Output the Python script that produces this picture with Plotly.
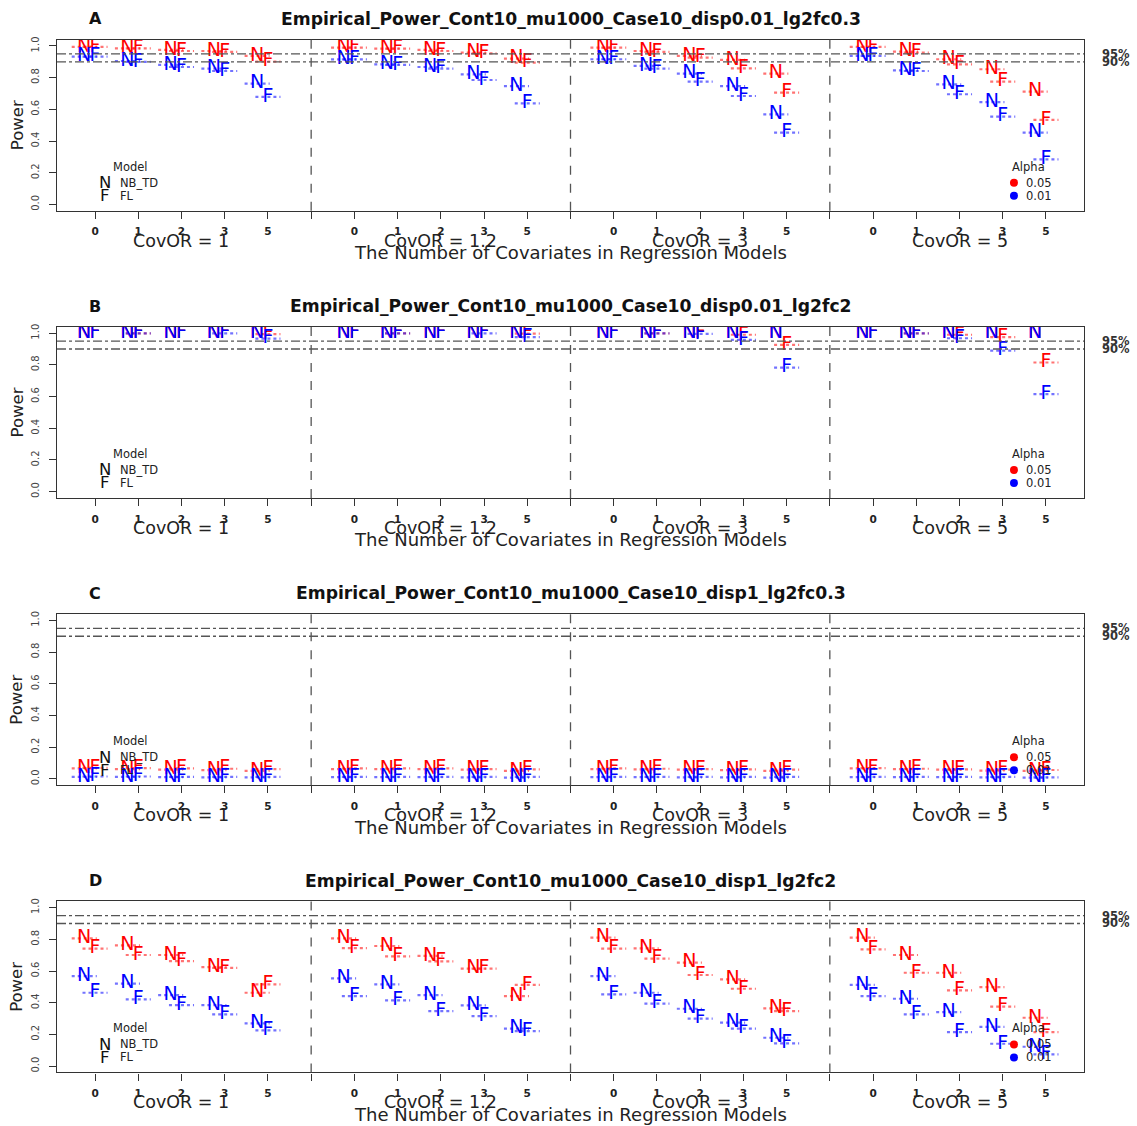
import plotly.graph_objects as go

W, H = 1137, 1126
FONT = "DejaVu Sans"

# ---------------------------------------------------------------- data
cov_labels = ["0", "1", "2", "3", "5"]
covor_labels = ["CovOR = 1", "CovOR = 1.2", "CovOR = 3", "CovOR = 5"]
panel_letters = ["A", "B", "C", "D"]
panel_titles = [
    "Empirical_Power_Cont10_mu1000_Case10_disp0.01_lg2fc0.3",
    "Empirical_Power_Cont10_mu1000_Case10_disp0.01_lg2fc2",
    "Empirical_Power_Cont10_mu1000_Case10_disp1_lg2fc0.3",
    "Empirical_Power_Cont10_mu1000_Case10_disp1_lg2fc2",
]
alpha_levels = ["0.05", "0.01"]
alpha_colors = ["#ff0000", "#0000ff"]
model_codes = ["N", "F"]
model_names = ["NB_TD", "FL"]
target_power = [0.95, 0.90]
target_labels = ["95%", "90%"]

# empirical power, 20 values per series: CovOR groups (1, 1.2, 3, 5) x covariates (0,1,2,3,5)
A_nb_05 = [0.994, 0.985, 0.975, 0.968, 0.937, 0.989, 0.983, 0.975, 0.958, 0.920,
           0.989, 0.968, 0.937, 0.912, 0.825, 0.994, 0.964, 0.916, 0.853, 0.712]
A_fl_05 = [0.994, 0.985, 0.968, 0.962, 0.901, 0.989, 0.983, 0.968, 0.953, 0.895,
           0.989, 0.962, 0.926, 0.859, 0.705, 0.994, 0.958, 0.884, 0.775, 0.533]
A_nb_01 = [0.933, 0.905, 0.880, 0.857, 0.762, 0.915, 0.884, 0.867, 0.821, 0.747,
           0.916, 0.874, 0.825, 0.747, 0.568, 0.937, 0.846, 0.758, 0.646, 0.453]
A_fl_01 = [0.933, 0.899, 0.867, 0.842, 0.678, 0.915, 0.880, 0.857, 0.785, 0.638,
           0.916, 0.857, 0.775, 0.684, 0.453, 0.937, 0.842, 0.695, 0.554, 0.284]

B_nb_05 = [1.0] * 20
B_fl_05 = [1.0, 0.999, 1.0, 1.0, 0.994, 1.0, 0.999, 1.0, 1.0, 0.997,
           1.0, 0.999, 1.0, 0.990, 0.926, 1.0, 0.999, 0.990, 0.975, 0.815]
B_nb_01 = [1.0] * 20
B_fl_01 = [1.0, 0.999, 1.0, 0.999, 0.965, 1.0, 0.999, 1.0, 0.999, 0.975,
           1.0, 0.999, 0.995, 0.958, 0.783, 1.0, 0.999, 0.968, 0.890, 0.615]

C_nb_05 = [0.066, 0.062, 0.058, 0.055, 0.050, 0.062, 0.062, 0.062, 0.058, 0.050,
           0.062, 0.060, 0.058, 0.055, 0.050, 0.066, 0.062, 0.058, 0.052, 0.050]
C_fl_05 = [0.070, 0.068, 0.066, 0.064, 0.062, 0.066, 0.066, 0.066, 0.062, 0.060,
           0.066, 0.064, 0.062, 0.060, 0.058, 0.068, 0.064, 0.060, 0.058, 0.056]
C_nb_01 = [0.012, 0.012, 0.011, 0.010, 0.009, 0.011, 0.011, 0.011, 0.010, 0.008,
           0.011, 0.011, 0.010, 0.010, 0.008, 0.011, 0.011, 0.011, 0.009, 0.008]
C_fl_01 = [0.015, 0.015, 0.013, 0.013, 0.012, 0.013, 0.013, 0.013, 0.013, 0.012,
           0.013, 0.013, 0.012, 0.012, 0.012, 0.013, 0.013, 0.013, 0.012, 0.010]

D_nb_05 = [0.806, 0.762, 0.701, 0.625, 0.463, 0.806, 0.758, 0.695, 0.615, 0.442,
           0.811, 0.743, 0.653, 0.547, 0.364, 0.811, 0.701, 0.589, 0.499, 0.305]
D_fl_05 = [0.741, 0.701, 0.663, 0.620, 0.516, 0.745, 0.693, 0.661, 0.615, 0.512,
           0.741, 0.678, 0.575, 0.488, 0.347, 0.737, 0.589, 0.478, 0.375, 0.215]
D_nb_01 = [0.568, 0.520, 0.448, 0.385, 0.270, 0.554, 0.516, 0.448, 0.383, 0.236,
           0.568, 0.463, 0.362, 0.274, 0.179, 0.512, 0.425, 0.341, 0.248, 0.122]
D_fl_01 = [0.463, 0.421, 0.385, 0.326, 0.225, 0.442, 0.415, 0.347, 0.316, 0.221,
           0.453, 0.394, 0.299, 0.236, 0.143, 0.442, 0.326, 0.215, 0.141, 0.074]

panels = [
    [[A_nb_05, A_fl_05], [A_nb_01, A_fl_01]],
    [[B_nb_05, B_fl_05], [B_nb_01, B_fl_01]],
    [[C_nb_05, C_fl_05], [C_nb_01, C_fl_01]],
    [[D_nb_05, D_fl_05], [D_nb_01, D_fl_01]],
]

# ---------------------------------------------------------------- geometry
n_cov = len(cov_labels)
group_step = n_cov + 1                       # one empty slot between CovOR groups
tick_pos = [1 + g * group_step + j for g in range(len(covor_labels)) for j in range(n_cov)]
sep_pos = [group_step * (g + 1) for g in range(len(covor_labels) - 1)]
group_mid = [1 + g * group_step + (n_cov - 1) / 2 for g in range(len(covor_labels))]
model_shift = [-0.25, 0.0]                   # N drawn left of the tick, F on it
seg_half = 0.29

XR = [0.12, 23.88]
YR = [-0.04, 1.04]
BOX_L, BOX_R = 57, 1084
BOX_T0, BOX_B0 = 36.7, 208.3
PANEL_STEP = 288

fig = go.Figure()
shapes, annots = [], []
layout = {}


def py(px):
    return 1 - px / H


for k, series in enumerate(panels):
    sx = "" if k == 0 else str(k + 1)
    xa, ya = "x" + sx, "y" + sx
    top = BOX_T0 + k * PANEL_STEP
    bot = BOX_B0 + k * PANEL_STEP

    layout["xaxis" + sx] = dict(
        domain=[BOX_L / W, BOX_R / W], range=XR, anchor=ya,
        tickmode="array", tickvals=tick_pos + sep_pos,
        ticktext=cov_labels * len(covor_labels) + [""] * len(sep_pos),
        ticks="outside", ticklen=7, tickwidth=1, tickcolor="#333",
        tickfont=dict(family=FONT, size=10.5, color="#222", weight="bold"),
        ticklabelstandoff=4,
        showline=True, mirror=True, linecolor="#333", linewidth=1.3,
        showgrid=False, zeroline=False,
    )
    layout["yaxis" + sx] = dict(
        domain=[py(bot), py(top)], range=YR, anchor=xa,
        tickmode="array", tickvals=[0, 0.2, 0.4, 0.6, 0.8, 1.0],
        ticktext=["0.0", "0.2", "0.4", "0.6", "0.8", "1.0"],
        tickangle=-90, ticks="outside", ticklen=7, tickwidth=1, tickcolor="#333",
        tickfont=dict(family=FONT, size=10, color="#444"),
        ticklabelstandoff=6,
        showline=True, mirror=True, linecolor="#333", linewidth=1.3,
        showgrid=False, zeroline=False,
    )

    # group separators
    for s in sep_pos:
        shapes.append(dict(type="line", xref=xa, yref=ya + " domain", x0=s, x1=s, y0=0, y1=1,
                           line=dict(color="#555", width=1.3, dash="dash")))
    # target power reference lines
    for tp, tl in zip(target_power, target_labels):
        shapes.append(dict(type="line", xref=xa + " domain", yref=ya, x0=0, x1=1, y0=tp, y1=tp,
                           line=dict(color="#555", width=1.3, dash="dashdot")))
        annots.append(dict(xref="paper", yref=ya, x=1100 / W, y=tp, xanchor="left", yanchor="middle",
                           text=tl, showarrow=False,
                           font=dict(family=FONT, size=11.5, color="#333", weight="bold")))

    # N / F marks with their dotted bars
    for a, col in enumerate(alpha_colors):
        for m, code in enumerate(model_codes):
            vals = series[a][m]
            xs = [p + model_shift[m] for p in tick_pos]
            sx_, sy_ = [], []
            for xv, v in zip(xs, vals):
                if v < 1.0:
                    sx_ += [xv - seg_half, xv + seg_half, None]
                    sy_ += [v, v, None]
            fig.add_trace(go.Scatter(x=sx_, y=sy_, mode="lines", xaxis=xa, yaxis=ya,
                                     line=dict(color=col, width=2.2, dash="dot"),
                                     opacity=0.55, hoverinfo="skip", showlegend=False))
            fig.add_trace(go.Scatter(x=xs, y=vals, mode="text", xaxis=xa, yaxis=ya,
                                     text=[code] * len(vals), textposition="middle center",
                                     textfont=dict(family=FONT, size=19, color=col),
                                     hoverinfo="skip", showlegend=False))

    # Model legend (upper-left inside the box)
    annots.append(dict(xref=xa, yref=ya, x=1.82, y=0.238, text="Model", showarrow=False,
                       font=dict(family=FONT, size=11.5, color="#222")))
    for code, name, yv in zip(model_codes, model_names, [0.137, 0.055]):
        annots.append(dict(xref=xa, yref=ya, x=1.24, y=yv, text=code, showarrow=False,
                           font=dict(family=FONT, size=16.5, color="#111")))
        annots.append(dict(xref=xa, yref=ya, x=1.52, y=yv, text=name, showarrow=False,
                           xanchor="left", font=dict(family=FONT, size=11.5, color="#222")))

    # Alpha legend (lower-right inside the box)
    annots.append(dict(xref=xa, yref=ya, x=22.6, y=0.238, text="Alpha", showarrow=False,
                       font=dict(family=FONT, size=11.5, color="#222")))
    fig.add_trace(go.Scatter(x=[22.26, 22.26], y=[0.137, 0.055], mode="markers", xaxis=xa, yaxis=ya,
                             marker=dict(color=alpha_colors, size=8), hoverinfo="skip",
                             showlegend=False))
    for lab, yv in zip(alpha_levels, [0.137, 0.055]):
        annots.append(dict(xref=xa, yref=ya, x=22.5, y=yv, text=lab, showarrow=False,
                           xanchor="left", font=dict(family=FONT, size=11.5, color="#222")))

    # titles and axis captions
    annots.append(dict(xref=xa, yref="paper", x=12, y=py(16 + k * PANEL_STEP), text=panel_titles[k],
                       showarrow=False, yanchor="middle",
                       font=dict(family=FONT, size=17.2, color="#111", weight="bold")))
    annots.append(dict(xref=xa, yref="paper", x=1, y=py(16 + k * PANEL_STEP), text=panel_letters[k],
                       showarrow=False, yanchor="middle",
                       font=dict(family=FONT, size=16, color="#111", weight="bold")))
    for gm, lab in zip(group_mid, covor_labels):
        annots.append(dict(xref=xa, yref="paper", x=gm, y=py(bot + 30), text=lab, showarrow=False,
                           yanchor="middle", font=dict(family=FONT, size=17.5, color="#222")))
    annots.append(dict(xref=xa, yref="paper", x=sep_pos[1], y=py(bot + 42),
                       text="The Number of Covariates in Regression Models", showarrow=False,
                       yanchor="middle", font=dict(family=FONT, size=18, color="#222")))
    annots.append(dict(xref="paper", yref=ya, x=17 / W, y=0.5, text="Power", textangle=-90,
                       showarrow=False, xanchor="center", yanchor="middle",
                       font=dict(family=FONT, size=16.5, color="#222")))

fig.update_layout(
    width=W, height=H, margin=dict(l=0, r=0, t=0, b=0),
    paper_bgcolor="white", plot_bgcolor="white",
    shapes=shapes, annotations=annots, showlegend=False,
    **layout,
)

fig.write_html("out.html")
